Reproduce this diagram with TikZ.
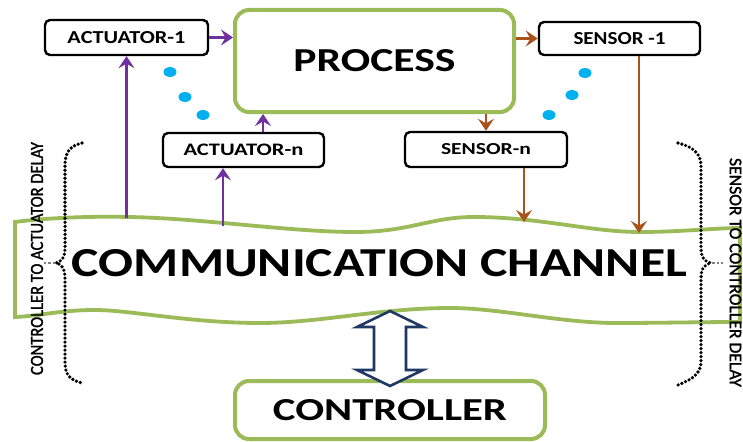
\documentclass[tikz,border=0pt]{standalone}
\usepackage{fontspec}
\setmainfont{Carlito}
\newfontfamily\sidefont{Carlito}[FakeBold=1.6]
\usepackage{graphicx}
\usetikzlibrary{arrows.meta}
\definecolor{chgreen}{RGB}{155,187,89}
\definecolor{actpurple}{RGB}{112,48,160}
\definecolor{senbrown}{RGB}{170,82,28}
\definecolor{dotblue}{RGB}{0,176,240}
\definecolor{navyline}{RGB}{31,56,100}
% text squeezed or stretched to a given width and cap height (in pt)
\newcommand{\fitlabel}[3]{\resizebox{#1pt}{#2pt}{#3}}
\begin{document}
\begin{tikzpicture}[x=1pt,y=-1pt,
  devbox/.style={draw=black, line width=2.4pt, rounded corners=5pt, fill=white, inner sep=0pt, font=\bfseries},
  greenbox/.style={draw=chgreen, line width=4pt, rounded corners=14pt, fill=white, inner sep=0pt, font=\bfseries},
  pa/.style={draw=actpurple, line width=2.8pt, -{Stealth[length=12pt,width=16pt,inset=4.5pt]}, fill=actpurple},
  ba/.style={draw=senbrown, line width=2.8pt, -{Stealth[length=12pt,width=16pt,inset=4.5pt]}, fill=senbrown},
  bracedots/.style={line width=3.6pt, line cap=round, dash pattern=on 0pt off 4pt},
  cuspdash/.style={gray, line width=1.8pt, dash pattern=on 2.5pt off 2pt},
  bluedot/.style={fill=dotblue, draw=none},
  sidetext/.style={inner sep=0pt, font=\sidefont}]
\useasboundingbox (0,0) rectangle (743,441);

% communication channel (wavy band)
\draw[chgreen, line width=3.8pt, fill=white]
  (15,222) .. controls (45,218) and (90,216) .. (128,217)
  .. controls (200,218) and (290,232) .. (355,232)
  .. controls (410,232) and (430,217) .. (474,217)
  .. controls (540,217) and (590,232) .. (640,232)
  .. controls (680,232) and (715,228) .. (740,228)
  -- (740,322)
  .. controls (700,322) and (660,323) .. (616,323)
  .. controls (560,323) and (500,308) .. (450,308)
  .. controls (380,308) and (320,323) .. (260,323)
  .. controls (190,323) and (130,310) .. (95,310)
  .. controls (60,310) and (40,316) .. (15,317) -- cycle;
\node[inner sep=0pt, font=\bfseries] (chan) at (379.5,263.5) {\fitlabel{615}{27}{COMMUNICATION CHANNEL}};

% devices
\node[greenbox, minimum width=279pt, minimum height=102pt] (proc) at (374.5,61) {\fitlabel{162}{22}{PROCESS}};
\node[devbox, minimum width=163pt, minimum height=35pt] (a1) at (126.5,37.5) {\fitlabel{118}{12}{ACTUATOR-1}};
\node[devbox, minimum width=161pt, minimum height=33pt] (s1) at (619.5,38.5) {\fitlabel{92}{12}{SENSOR -1}};
\node[devbox, minimum width=161pt, minimum height=34pt] (an) at (243.5,150) {\fitlabel{120}{11.5}{ACTUATOR-n}};
\node[devbox, minimum width=162pt, minimum height=35pt] (sn) at (486,149.5) {\fitlabel{90}{11}{SENSOR-n}};
\node[greenbox, minimum width=310pt, minimum height=58pt] (ctrl) at (390,410) {\fitlabel{234}{21}{CONTROLLER}};

% points where the signal lines meet the channel
\coordinate (ca1) at (126.5,217.5);
\coordinate (can) at (223,226);
\coordinate (csn) at (524,222);
\coordinate (cs1) at (639,233);

% actuator side
\draw[pa] (a1.east) -- (a1.east -| proc.west);
\draw[pa] (ca1) -- (a1.south);
\draw[pa] (can) -- (can |- an.south);
\draw[pa] ([xshift=19.5pt]an.north) -- ([xshift=19.5pt]an.north |- proc.south);

% sensor side
\draw[ba] (proc.east |- s1.west) -- (s1.west);
\draw[ba] (sn.north |- proc.south) -- (sn.north);
\draw[ba] ([xshift=38pt]sn.south) -- (csn);
\draw[ba] ([xshift=19.5pt]s1.south) -- (cs1);

% controller <-> channel
\draw[navyline, line width=2.6pt, fill=white, line join=miter]
  (390,311) -- (423,327) -- (406,327) -- (406,370) -- (423,370) -- (390,386)
  -- (357,370) -- (374,370) -- (374,327) -- (357,327) -- cycle;

% ellipsis dots
\foreach \p in {(170,72),(185,97),(203,115),(585,73),(572,95),(549,115)}
  \fill[bluedot] \p ellipse (6.5pt and 5pt);

% delay braces
\draw[bracedots] (82,143) .. controls (70,146) and (65,152) .. (65,165) -- (65,248)
  .. controls (65,258) and (61,262) .. (56,263) .. controls (61,264) and (65,268) .. (65,278)
  -- (65,362) .. controls (65,375) and (70,380) .. (82,383);
\draw[cuspdash] (55,263) -- (44,263);
\draw[bracedots] (678,143) .. controls (690,146) and (701,152) .. (701,165) -- (701,248)
  .. controls (701,258) and (705,262) .. (711,263) .. controls (705,264) and (701,268) .. (701,278)
  -- (701,362) .. controls (701,375) and (690,380) .. (678,385);
\draw[cuspdash] (712,263) -- (723,263);

\node[sidetext, rotate=90] (ldelay) at (37,258.5) {\fitlabel{233}{12}{CONTROLLER TO ACTUATOR DELAY}};
\node[sidetext, rotate=-90] (rdelay) at (735.5,272.5) {\fitlabel{229}{11.5}{SENSOR TO CONTROLLER DELAY}};
\end{tikzpicture}
\end{document}
